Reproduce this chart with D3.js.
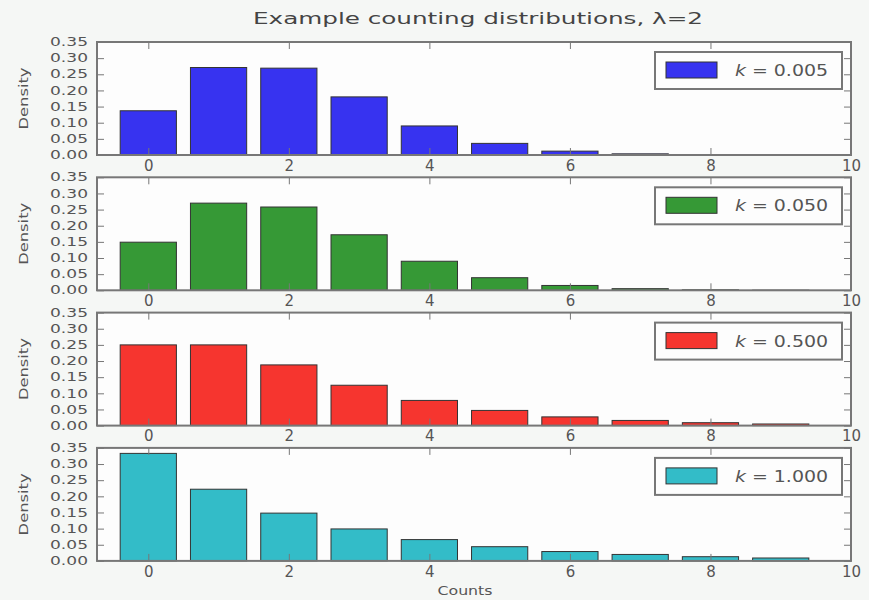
<!DOCTYPE html>
<html>
<head>
<meta charset="utf-8">
<script src="https://cdn.jsdelivr.net/npm/d3@7"></script>
<style>
  body { margin: 0; background: #f5f7f5; }
  svg { display: block; font-family: "DejaVu Sans", sans-serif; }
</style>
</head>
<body>
<div id="chart"></div>
<script>
/* Stacked bar panels of counting distributions, mean 2, one panel per k */

const counts = [0, 1, 2, 3, 4, 5, 6, 7, 8, 9];
const kLabels = ["0.005", "0.050", "0.500", "1.000"];
const densityK005 = [0.137, 0.271, 0.269, 0.180, 0.090, 0.036, 0.012, 0.0036, 0.0009, 0.0002];
const densityK050 = [0.149, 0.270, 0.258, 0.172, 0.090, 0.039, 0.015, 0.0050, 0.0015, 0.0004];
const densityK500 = [0.250, 0.250, 0.188, 0.125, 0.078, 0.047, 0.027, 0.016, 0.009, 0.005];
const densityK1000 = [0.333, 0.222, 0.148, 0.099, 0.066, 0.044, 0.029, 0.020, 0.013, 0.009];
const xTicks = [0, 2, 4, 6, 8, 10];
const yTicks = [0.00, 0.05, 0.10, 0.15, 0.20, 0.25, 0.30, 0.35];
const colors = ["#3733f0", "#369936", "#f6352f", "#33bcc8"];

const series = [densityK005, densityK050, densityK500, densityK1000];

const width = 869, height = 600;
const left = 97, right = 851;
const panelTop = 42, panelH = 113, panelStep = 135.3;

const svg = d3.select("#chart").append("svg")
    .attr("width", width)
    .attr("height", height);

// x scale shared by all panels
const x = d3.scaleLinear()
    .domain([-0.73, 10])
    .range([left, right]);

svg.append("text") // title
    .attr("x", (left + right) / 2 + 4)
    .attr("y", 24)
    .attr("text-anchor", "middle")
    .attr("font-size", 16)
    .attr("textLength", 450)
    .attr("lengthAdjust", "spacingAndGlyphs")
    .attr("fill", "#444")
    .text("Example counting distributions, \u03bb=2");

series.forEach((vals, i) => {
    const top = panelTop + i * panelStep,
        bottom = top + panelH;

    const y = d3.scaleLinear()
        .domain([0, 0.35])
        .range([bottom, top]);

    const g = svg.append("g");

    g.append("rect") // axes background
        .attr("x", left)
        .attr("y", top)
        .attr("width", right - left)
        .attr("height", panelH)
        .attr("fill", "#fdfdfd");

    g.selectAll(".bar")
        .data(counts)
        .join("rect")
        .attr("class", "bar")
        .attr("x", d => x(d - 0.4))
        .attr("width", x(0.8) - x(0))
        .attr("y", d => y(vals[d]))
        .attr("height", d => y(0) - y(vals[d]))
        .attr("fill", colors[i])
        .attr("stroke", "#333")
        .attr("stroke-width", 1);

    // axes, ticks pointing inward
    g.append("g")
        .attr("class", "xaxis")
        .attr("transform", `translate(0,${bottom})`)
        .call(d3.axisBottom(x).tickValues(xTicks).tickFormat(d3.format("d"))
            .tickSizeInner(-7).tickSizeOuter(0).tickPadding(5));
    g.append("g")
        .attr("transform", `translate(0,${top})`)
        .call(d3.axisTop(x).tickValues(xTicks).tickFormat("")
            .tickSizeInner(-7).tickSizeOuter(0));
    g.append("g")
        .attr("class", "yaxis")
        .attr("transform", `translate(${left},0)`)
        .call(d3.axisLeft(y).tickValues(yTicks).tickFormat(d3.format(".2f"))
            .tickSizeInner(-7).tickSizeOuter(0).tickPadding(9));
    g.append("g")
        .attr("transform", `translate(${right},0)`)
        .call(d3.axisRight(y).tickValues(yTicks).tickFormat("")
            .tickSizeInner(-7).tickSizeOuter(0));

    g.selectAll(".domain").remove();
    g.selectAll(".tick line").attr("stroke", "#777");
    g.selectAll(".tick text")
        .attr("fill", "#555")
        .attr("font-family", "DejaVu Sans, sans-serif");
    g.selectAll(".xaxis .tick text").attr("font-size", 15);
    g.selectAll(".yaxis .tick text")
        .attr("font-size", 11.5)
        .attr("textLength", 38)
        .attr("lengthAdjust", "spacingAndGlyphs");

    g.append("rect") // frame
        .attr("x", left)
        .attr("y", top)
        .attr("width", right - left)
        .attr("height", panelH)
        .attr("fill", "none")
        .attr("stroke", "#777")
        .attr("stroke-width", 2);

    g.append("text") // ylabel
        .attr("transform", `translate(28,${(top + bottom) / 2}) rotate(-90)`)
        .attr("text-anchor", "middle")
        .attr("font-size", 12)
        .attr("textLength", 62)
        .attr("lengthAdjust", "spacingAndGlyphs")
        .attr("fill", "#555")
        .text("Density");

    // legend
    const lg = g.append("g").attr("transform", `translate(655,${top + 10})`);
    lg.append("rect")
        .attr("width", 187)
        .attr("height", 37)
        .attr("fill", "#fdfdfd")
        .attr("stroke", "#777")
        .attr("stroke-width", 2);
    lg.append("rect")
        .attr("x", 11)
        .attr("y", 10)
        .attr("width", 51)
        .attr("height", 16)
        .attr("fill", colors[i])
        .attr("stroke", "#333");
    const lt = lg.append("text")
        .attr("x", 80)
        .attr("y", 24)
        .attr("font-size", 16)
        .attr("textLength", 93)
        .attr("lengthAdjust", "spacingAndGlyphs")
        .attr("fill", "#555");
    lt.append("tspan").attr("font-style", "italic").text("k");
    lt.append("tspan").text(" = " + kLabels[i]);
});

svg.append("text") // xlabel
    .attr("x", 465)
    .attr("y", 595)
    .attr("text-anchor", "middle")
    .attr("font-size", 13)
    .attr("textLength", 55)
    .attr("lengthAdjust", "spacingAndGlyphs")
    .attr("fill", "#555")
    .text("Counts");
</script>
</body>
</html>
